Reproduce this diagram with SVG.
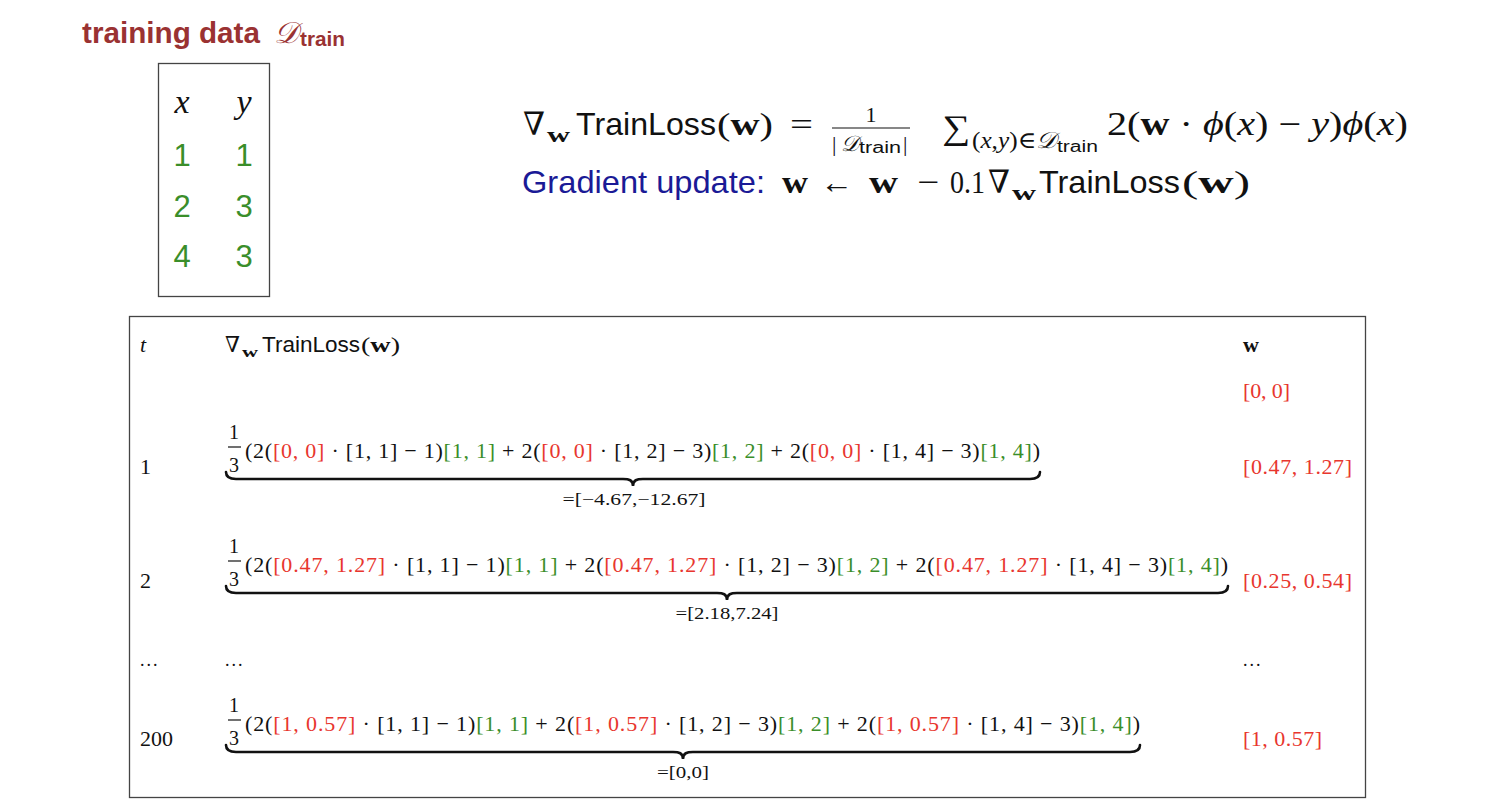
<svg xmlns="http://www.w3.org/2000/svg" width="1502" height="808" viewBox="0 0 1502 808">
<style>
.s{font-family:"Liberation Sans",Arial,sans-serif}
.m{font-family:"Liberation Serif","DejaVu Serif",serif}
.i{font-style:italic}
.b{font-weight:bold}
.r{fill:#e8362e}
.g{fill:#3a8e2a}
.k{fill:#111}
.brace{fill:none;stroke:#111;stroke-width:2.6;stroke-linecap:round}
.bar{stroke:#111;stroke-width:1.2}
.box{fill:none;stroke:#444;stroke-width:1.3}
</style>
<rect width="1502" height="808" fill="#fff"/>

<g id="title">
<text class="s b" x="82" y="43" font-size="29" fill="#9a3232" textLength="178" lengthAdjust="spacingAndGlyphs">training data</text>
<text class="m i" x="274" y="43" font-size="30" fill="#9a3232">𝒟</text>
<text class="s b" x="300" y="46" font-size="20" fill="#9a3232" textLength="45" lengthAdjust="spacingAndGlyphs">train</text>
</g>

<g id="data-table">
<rect class="box" x="158.5" y="63.5" width="111" height="233"/>
<text class="m i k" x="182" y="113" font-size="34" text-anchor="middle">x</text>
<text class="m i k" x="244" y="113" font-size="34" text-anchor="middle">y</text>
<g class="s g" font-size="31" text-anchor="middle">
<text x="182" y="166">1</text><text x="244" y="166">1</text>
<text x="182" y="217">2</text><text x="244" y="217">3</text>
<text x="182" y="267">4</text><text x="244" y="267">3</text>
</g>
</g>

<g id="formula" class="k">
<text class="m" x="523" y="135" font-size="32" textLength="22" lengthAdjust="spacingAndGlyphs">∇</text>
<text class="m b" x="547" y="142" font-size="22" textLength="23" lengthAdjust="spacingAndGlyphs">w</text>
<text class="s" x="576" y="135" font-size="32" textLength="140" lengthAdjust="spacingAndGlyphs">TrainLoss</text>
<text class="m" x="717" y="135" font-size="32" textLength="56" lengthAdjust="spacingAndGlyphs">(<tspan class="b">w</tspan>)</text>
<text class="m" x="790" y="135" font-size="32" textLength="23" lengthAdjust="spacingAndGlyphs">=</text>
<text class="m" x="871" y="122" font-size="22" text-anchor="middle">1</text>
<line class="bar" x1="832" y1="128" x2="910" y2="128"/>
<text class="m" x="832" y="151" font-size="22">|</text>
<text class="m i" x="841" y="151" font-size="22">𝒟</text>
<text class="s" x="859" y="153" font-size="16" textLength="42" lengthAdjust="spacingAndGlyphs">train</text>
<text class="m" x="903" y="151" font-size="22">|</text>
<text class="m" x="942" y="139" font-size="34" textLength="28" lengthAdjust="spacingAndGlyphs">∑</text>
<text class="m" x="972" y="148" font-size="23" textLength="84" lengthAdjust="spacingAndGlyphs">(<tspan class="i">x</tspan>,<tspan class="i">y</tspan>)∈<tspan class="i">𝒟</tspan></text>
<text class="s" x="1057" y="152" font-size="16" textLength="41" lengthAdjust="spacingAndGlyphs">train</text>
<text class="m" x="1107" y="135" font-size="33" textLength="301" lengthAdjust="spacingAndGlyphs">2(<tspan class="b">w</tspan> · <tspan class="i">ϕ</tspan>(<tspan class="i">x</tspan>) − <tspan class="i">y</tspan>)<tspan class="i">ϕ</tspan>(<tspan class="i">x</tspan>)</text>

<text class="s" x="522" y="193" font-size="32" fill="#1a1a96" textLength="243" lengthAdjust="spacingAndGlyphs">Gradient update:</text>
<text class="m b" x="782" y="193" font-size="32" textLength="26" lengthAdjust="spacingAndGlyphs">w</text>
<text class="m" x="820" y="193" font-size="32" textLength="33" lengthAdjust="spacingAndGlyphs">←</text>
<text class="m b" x="869" y="193" font-size="32" textLength="29" lengthAdjust="spacingAndGlyphs">w</text>
<text class="m" x="917" y="193" font-size="32" textLength="22" lengthAdjust="spacingAndGlyphs">−</text>
<text class="m" x="950" y="193" font-size="32" textLength="35" lengthAdjust="spacingAndGlyphs">0.1</text>
<text class="m" x="988" y="193" font-size="32" textLength="22" lengthAdjust="spacingAndGlyphs">∇</text>
<text class="m b" x="1012" y="200" font-size="22" textLength="24" lengthAdjust="spacingAndGlyphs">w</text>
<text class="s" x="1039" y="193" font-size="32" textLength="141" lengthAdjust="spacingAndGlyphs">TrainLoss</text>
<text class="m" x="1182" y="193" font-size="32" textLength="68" lengthAdjust="spacingAndGlyphs">(<tspan class="b">w</tspan>)</text>
</g>

<g id="iteration-table" class="k">
<rect class="box" x="129.5" y="316.5" width="1236" height="481"/>

<g id="header">
<text class="m i" x="140" y="352" font-size="22">t</text>
<text class="m" x="225" y="352" font-size="22" textLength="15" lengthAdjust="spacingAndGlyphs">∇</text>
<text class="m b" x="242" y="357" font-size="15" textLength="16" lengthAdjust="spacingAndGlyphs">w</text>
<text class="s" x="262" y="352" font-size="22" textLength="98" lengthAdjust="spacingAndGlyphs">TrainLoss</text>
<text class="m" x="361" y="352" font-size="22" textLength="39" lengthAdjust="spacingAndGlyphs">(<tspan class="b">w</tspan>)</text>
<text class="m b" x="1243" y="352" font-size="22">w</text>
<text class="m r" x="1243" y="398" font-size="22" textLength="47" lengthAdjust="spacing">[0, 0]</text>
</g>

<g id="row-1">
<text class="m" x="140" y="474" font-size="22">1</text>
<text class="m" x="234" y="439" font-size="20" text-anchor="middle">1</text>
<line class="bar" x1="228" y1="447" x2="241" y2="447"/>
<text class="m" x="234" y="472" font-size="20" text-anchor="middle">3</text>
<text class="m" x="245" y="458" font-size="22" textLength="795" lengthAdjust="spacing">(2(<tspan class="r">[0, 0]</tspan> · [1, 1] − 1)<tspan class="g">[1, 1]</tspan> + 2(<tspan class="r">[0, 0]</tspan> · [1, 2] − 3)<tspan class="g">[1, 2]</tspan> + 2(<tspan class="r">[0, 0]</tspan> · [1, 4] − 3)<tspan class="g">[1, 4]</tspan>)</text>
<path class="brace" d="M226,472 C226,477 229,479 236,479 L623,479 C629,479 633,480 633,486 C633,480 637,479 643,479 L1030,479 C1037,479 1040,477 1040,472"/>
<text class="m" x="634" y="505" font-size="16" text-anchor="middle" textLength="143" lengthAdjust="spacingAndGlyphs">=[−4.67,−12.67]</text>
<text class="m r" x="1243" y="474" font-size="22" textLength="109" lengthAdjust="spacing">[0.47, 1.27]</text>
</g>

<g id="row-2">
<text class="m" x="140" y="588" font-size="22">2</text>
<text class="m" x="234" y="553" font-size="20" text-anchor="middle">1</text>
<line class="bar" x1="228" y1="561" x2="241" y2="561"/>
<text class="m" x="234" y="586" font-size="20" text-anchor="middle">3</text>
<text class="m" x="245" y="572" font-size="22" textLength="983" lengthAdjust="spacing">(2(<tspan class="r">[0.47, 1.27]</tspan> · [1, 1] − 1)<tspan class="g">[1, 1]</tspan> + 2(<tspan class="r">[0.47, 1.27]</tspan> · [1, 2] − 3)<tspan class="g">[1, 2]</tspan> + 2(<tspan class="r">[0.47, 1.27]</tspan> · [1, 4] − 3)<tspan class="g">[1, 4]</tspan>)</text>
<path class="brace" d="M226,586 C226,591 229,593 236,593 L717,593 C723,593 727,594 727,600 C727,594 731,593 737,593 L1218,593 C1225,593 1228,591 1228,586"/>
<text class="m" x="727" y="619" font-size="16" text-anchor="middle" textLength="103" lengthAdjust="spacingAndGlyphs">=[2.18,7.24]</text>
<text class="m r" x="1243" y="588" font-size="22" textLength="109" lengthAdjust="spacing">[0.25, 0.54]</text>
</g>

<g id="row-ellipsis" font-size="18">
<text class="m" x="140" y="666" letter-spacing="2">...</text>
<text class="m" x="225" y="666" letter-spacing="2">...</text>
<text class="m" x="1243" y="666" letter-spacing="2">...</text>
</g>

<g id="row-200">
<text class="m" x="140" y="746" font-size="22">200</text>
<text class="m" x="234" y="712" font-size="20" text-anchor="middle">1</text>
<line class="bar" x1="228" y1="720" x2="241" y2="720"/>
<text class="m" x="234" y="745" font-size="20" text-anchor="middle">3</text>
<text class="m" x="245" y="731" font-size="22" textLength="895" lengthAdjust="spacing">(2(<tspan class="r">[1, 0.57]</tspan> · [1, 1] − 1)<tspan class="g">[1, 1]</tspan> + 2(<tspan class="r">[1, 0.57]</tspan> · [1, 2] − 3)<tspan class="g">[1, 2]</tspan> + 2(<tspan class="r">[1, 0.57]</tspan> · [1, 4] − 3)<tspan class="g">[1, 4]</tspan>)</text>
<path class="brace" d="M226,745 C226,750 229,752 236,752 L673,752 C679,752 683,753 683,759 C683,753 687,752 693,752 L1130,752 C1137,752 1140,750 1140,745"/>
<text class="m" x="683" y="778" font-size="16" text-anchor="middle" textLength="52" lengthAdjust="spacingAndGlyphs">=[0,0]</text>
<text class="m r" x="1243" y="746" font-size="22" textLength="79" lengthAdjust="spacing">[1, 0.57]</text>
</g>
</g>
</svg>
